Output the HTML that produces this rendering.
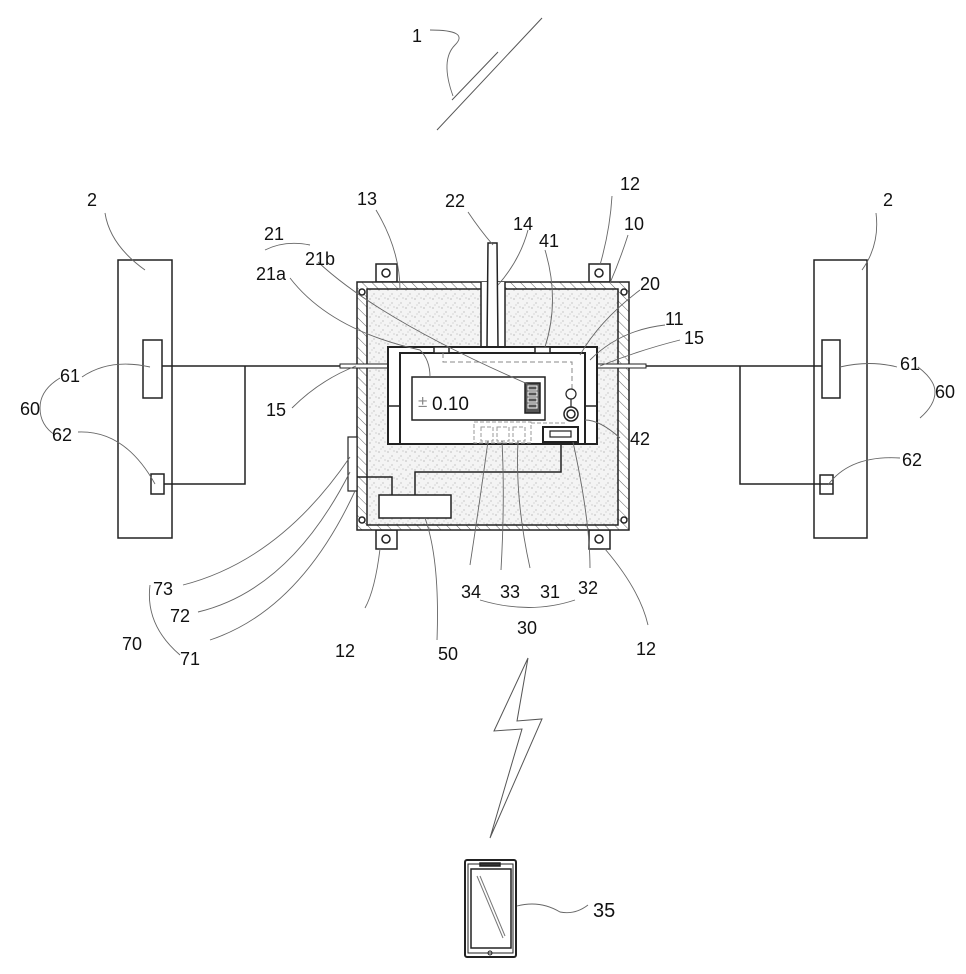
<!DOCTYPE html>
<html><head><meta charset="utf-8"><style>html,body{margin:0;padding:0;background:#fff}svg{display:block}text{font-family:"Liberation Sans",sans-serif;font-size:18px;fill:#111}</style></head><body>
<svg width="966" height="974" viewBox="0 0 966 974" xmlns="http://www.w3.org/2000/svg">
<defs>
<pattern id="h" width="7" height="7" patternUnits="userSpaceOnUse" patternTransform="rotate(-45)"><rect width="7" height="7" fill="#fff"/><line x1="0" y1="0" x2="0" y2="7" stroke="#666" stroke-width="1"/></pattern>
<pattern id="s" width="9" height="9" patternUnits="userSpaceOnUse"><rect width="9" height="9" fill="#f4f4f4"/><circle cx="1" cy="2" r=".6" fill="#999"/><circle cx="5" cy="6" r=".6" fill="#aaa"/><circle cx="7" cy="1" r=".5" fill="#999"/><circle cx="3" cy="8" r=".5" fill="#aaa"/></pattern>
</defs>
<g fill="none" stroke="#222" stroke-width="1.5">
<line x1="437" y1="130" x2="542" y2="18" stroke-width="1" stroke="#555"/>
<line x1="452" y1="100" x2="498" y2="52" stroke-width="1" stroke="#555"/>
<rect x="118" y="260" width="54" height="278"/>
<rect x="143" y="340" width="19" height="58"/>
<rect x="151" y="474" width="13" height="20"/>
<polyline points="162,366 388,366"/>
<polyline points="245,366 245,484 164,484"/>
<rect x="814" y="260" width="53" height="278"/>
<rect x="822" y="340" width="18" height="58"/>
<rect x="820" y="475" width="13" height="19"/>
<polyline points="597,366 822,366"/>
<polyline points="740,366 740,484 833,484"/>
<rect x="376" y="264" width="21" height="18" fill="#fff"/><circle cx="386" cy="273" r="4"/>
<rect x="589" y="264" width="21" height="18" fill="#fff"/><circle cx="599" cy="273" r="4"/>
<rect x="376" y="530" width="21" height="19" fill="#fff"/><circle cx="386" cy="539" r="4"/>
<rect x="589" y="530" width="21" height="19" fill="#fff"/><circle cx="599" cy="539" r="4"/>
<rect x="357" y="282" width="272" height="248" fill="url(#h)"/>
<rect x="367" y="289" width="251" height="236" fill="url(#s)"/>
<circle cx="362" cy="292" r="3" fill="#fff"/><circle cx="624" cy="292" r="3" fill="#fff"/>
<circle cx="362" cy="520" r="3" fill="#fff"/><circle cx="624" cy="520" r="3" fill="#fff"/>
<rect x="481" y="282" width="24" height="65" fill="#fff" stroke="none"/>
<line x1="481" y1="282" x2="481" y2="347"/><line x1="505" y1="282" x2="505" y2="347"/>
<polygon points="488,243 497,243 498,347 487,347" fill="#fff"/>
<rect x="483" y="347" width="19" height="6" fill="#fff"/>
<rect x="340" y="364" width="50" height="4" fill="#fff" stroke-width="1"/>
<rect x="596" y="364" width="50" height="4" fill="#fff" stroke-width="1"/>
<rect x="388" y="347" width="209" height="97" fill="#fff" stroke-width="2"/>
<rect x="400" y="353" width="185" height="91" fill="#fff" stroke-width="2"/>
<line x1="388" y1="406" x2="400" y2="406"/><line x1="585" y1="406" x2="597" y2="406"/>
<rect x="434" y="347" width="15" height="6" fill="#fff"/>
<rect x="535" y="347" width="15" height="6" fill="#fff"/>
<polyline points="443,353 443,362 572,362 572,389" stroke="#888" stroke-dasharray="5,3" stroke-width="1"/>
<rect x="412" y="377" width="133" height="43" stroke-width="1.5"/>
<rect x="525" y="383" width="15" height="30" fill="#555"/>
<g stroke="#fff" stroke-width="1"><rect x="528" y="386" width="9" height="4"/><rect x="528" y="392" width="9" height="4"/><rect x="528" y="398" width="9" height="4"/><rect x="528" y="404" width="9" height="4"/></g>
<circle cx="571" cy="394" r="5" stroke-width="1.2"/>
<line x1="571" y1="399" x2="571" y2="407" stroke-width="1.2"/>
<circle cx="571" cy="414" r="7"/><circle cx="571" cy="414" r="4"/>
<g stroke="#999" stroke-dasharray="4,2" stroke-width="1">
<rect x="474" y="422" width="57" height="21"/>
<rect x="481" y="427" width="12" height="14"/><rect x="497" y="427" width="12" height="14"/><rect x="513" y="427" width="12" height="14"/>
<line x1="531" y1="423" x2="565" y2="423"/>
</g>
<rect x="543" y="427" width="35" height="15" fill="#fff" stroke-width="2"/>
<rect x="550" y="431" width="21" height="6" stroke-width="1.2"/>
<polyline points="561,443 561,472 415,472 415,495"/>
<rect x="379" y="495" width="72" height="23" fill="#fff"/>
<rect x="348" y="437" width="9" height="54" fill="#fff" stroke-width="1.2"/>
<polyline points="357,477 392,477 392,495"/>
<polygon points="528,658 494,731 522,729 490,838 542,719 517,721" stroke-width="1" stroke="#555"/>
<rect x="465" y="860" width="51" height="97" rx="2" stroke-width="2"/>
<rect x="468" y="864" width="45" height="89" stroke-width="1"/>
<rect x="480" y="863" width="20" height="3" fill="#333"/>
<rect x="471" y="869" width="40" height="79" stroke-width="1.5"/>
<circle cx="490" cy="953" r="2" stroke-width="1"/>
<line x1="477" y1="876" x2="503" y2="938" stroke="#777" stroke-width="1"/>
<line x1="480" y1="876" x2="505" y2="936" stroke="#777" stroke-width="1"/>
</g>
<g fill="none" stroke="#666" stroke-width="0.9">
<path d="M453,96 Q440,60 455,45 Q470,30 430,30"/>
<path d="M105,213 Q110,245 145,270"/>
<path d="M876,213 Q880,245 862,270"/>
<path d="M376,210 Q400,250 400,290"/>
<path d="M468,212 Q480,230 493,245"/>
<path d="M528,230 Q520,260 498,285"/>
<path d="M545,250 Q560,300 545,347"/>
<path d="M612,196 Q610,230 600,265"/>
<path d="M628,235 Q620,260 610,283"/>
<path d="M640,290 Q600,320 580,355"/>
<path d="M665,325 Q620,330 590,360"/>
<path d="M680,340 Q640,350 600,366"/>
<path d="M620,438 Q600,420 585,420"/>
<path d="M265,250 Q285,240 310,245"/>
<path d="M318,262 Q380,320 530,385"/>
<path d="M290,278 Q330,330 420,350 Q430,360 430,377"/>
<path d="M292,408 Q320,380 356,366"/>
<path d="M82,377 Q110,358 150,367"/>
<path d="M78,432 Q125,430 155,484"/>
<path d="M840,367 Q870,360 897,367"/>
<path d="M828,485 Q850,455 900,458"/>
<path d="M60,378 Q40,390 40,408 Q40,425 55,435"/>
<path d="M918,367 Q935,380 935,392 Q935,405 920,418"/>
<path d="M183,585 Q280,560 350,457"/>
<path d="M198,612 Q290,590 350,472"/>
<path d="M210,640 Q300,610 355,491"/>
<path d="M150,585 Q145,625 180,655"/>
<path d="M365,608 Q375,590 380,549"/>
<path d="M437,640 Q440,560 425,518"/>
<path d="M470,565 Q480,500 488,441"/>
<path d="M501,570 Q505,500 502,441"/>
<path d="M530,568 Q515,500 518,441"/>
<path d="M590,568 Q590,520 573,442"/>
<path d="M648,625 Q640,590 605,549"/>
<path d="M480,600 Q530,615 575,600"/>
<path d="M517,906 Q540,900 560,912 Q575,915 588,905"/>
</g>
<g>
<text x="412" y="42">1</text>
<text x="87" y="206">2</text><text x="883" y="206">2</text>
<text x="357" y="205">13</text><text x="445" y="207">22</text><text x="513" y="230">14</text>
<text x="539" y="247">41</text><text x="620" y="190">12</text><text x="624" y="230">10</text>
<text x="640" y="290">20</text><text x="665" y="325">11</text><text x="684" y="344">15</text>
<text x="264" y="240">21</text><text x="305" y="265">21b</text><text x="256" y="280">21a</text>
<text x="266" y="416">15</text>
<text x="60" y="382">61</text><text x="20" y="415">60</text><text x="52" y="441">62</text>
<text x="900" y="370">61</text><text x="935" y="398">60</text><text x="902" y="466">62</text>
<text x="630" y="445">42</text>
<text x="153" y="595">73</text><text x="170" y="622">72</text><text x="122" y="650">70</text><text x="180" y="665">71</text>
<text x="335" y="657">12</text><text x="438" y="660">50</text>
<text x="461" y="598">34</text><text x="500" y="598">33</text><text x="540" y="598">31</text><text x="578" y="594">32</text>
<text x="517" y="634">30</text><text x="636" y="655">12</text>
<text x="593" y="917" style="font-size:20px">35</text>
<text x="432" y="410" style="font-size:19px">0.10</text>
<text x="418" y="407" style="font-size:17px;fill:#888">±</text>
</g>
</svg>
</body></html>
